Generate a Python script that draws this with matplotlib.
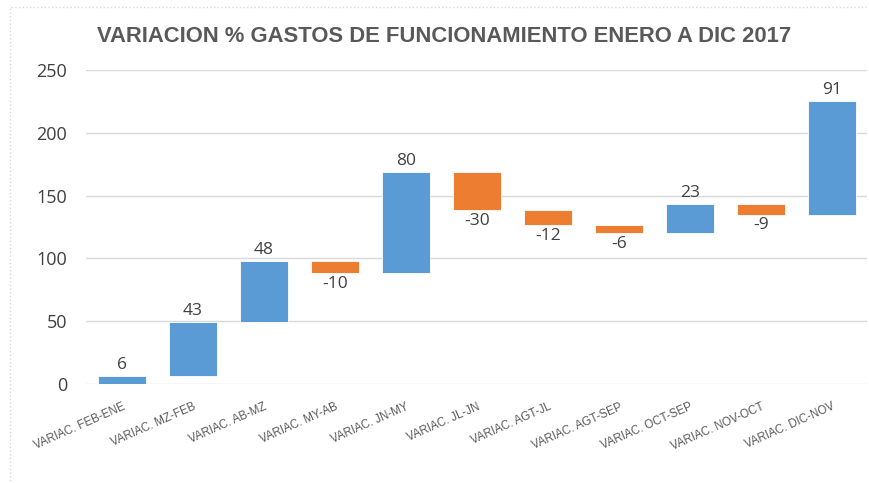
import matplotlib
matplotlib.use("Agg")
import matplotlib.pyplot as plt
from matplotlib.patches import Rectangle
import numpy as np

categories = ["VARIAC. FEB-ENE", "VARIAC. MZ-FEB", "VARIAC. AB-MZ", "VARIAC. MY-AB",
              "VARIAC. JN-MY", "VARIAC. JL-JN", "VARIAC. AGT-JL", "VARIAC. AGT-SEP",
              "VARIAC. OCT-SEP", "VARIAC. NOV-OCT", "VARIAC. DIC-NOV"]
changes = [6.3, 43.4, 48.3, -9.6, 80.4, -30.4, -11.8, -6.3, 23.4, -8.8, 90.8]
yticks = [0, 50, 100, 150, 200, 250]
title = "VARIACION % GASTOS DE FUNCIONAMIENTO ENERO A DIC 2017"

BLUE = "#5B9BD5"
ORANGE = "#ED7D31"
TXT = "#404040"

fig = plt.figure(figsize=(8.7, 4.83), dpi=100)
fig.patch.set_facecolor("white")
ax = fig.add_axes([86.5/870, 1-384/483, (867.5-86.5)/870, (384-70)/483])

x = np.arange(len(changes))
ends = np.cumsum(changes)
starts = ends - np.array(changes)
bottoms = np.minimum(starts, ends)
heights = np.abs(changes)
colors = [BLUE if c >= 0 else ORANGE for c in changes]
ax.bar(x, heights, bottom=bottoms, width=0.69, color=colors, zorder=3,
       edgecolor="white", linewidth=0.6)

for xi, c, s, e in zip(x, changes, starts, ends):
    lab = f"{int(round(c))}"
    if c >= 0:
        ax.annotate(lab, (xi, max(s, e)), xytext=(0, 2), textcoords="offset points",
                    ha="center", va="bottom", fontsize=12.5, color=TXT, family="Open Sans")
    else:
        ax.annotate(lab, (xi, min(s, e)), xytext=(0, -2), textcoords="offset points",
                    ha="center", va="top", fontsize=12.5, color=TXT, family="Open Sans")

ax.set_xlim(-0.5, len(changes) - 0.5)
ax.set_ylim(0, 250)
ax.set_yticks(yticks)
ax.set_yticklabels([str(v) for v in yticks], fontsize=13, color=TXT, family="Open Sans")
ax.tick_params(axis="y", length=0, pad=14)
ax.set_xticks(x)
ax.set_xticklabels(categories, rotation=24, ha="right", rotation_mode="anchor",
                   fontsize=8.3, color="#595959", family="Liberation Sans")
ax.tick_params(axis="x", length=0, pad=12)
ax.grid(axis="y", color="#D9D9D9", linewidth=1, zorder=0)
for s in ax.spines.values():
    s.set_visible(False)

fig.text(0.51, 1-36/483, title, ha="center", va="center", fontsize=15.8,
         fontweight="bold", color="#595959", family="Liberation Sans")

fig.patches.append(Rectangle((10/870, -0.1), 1.2, 1-7/483+0.1, transform=fig.transFigure,
                             fill=False, edgecolor="#D9D9D9", linewidth=1, linestyle=":"))

fig.savefig("out.png", dpi=100)
